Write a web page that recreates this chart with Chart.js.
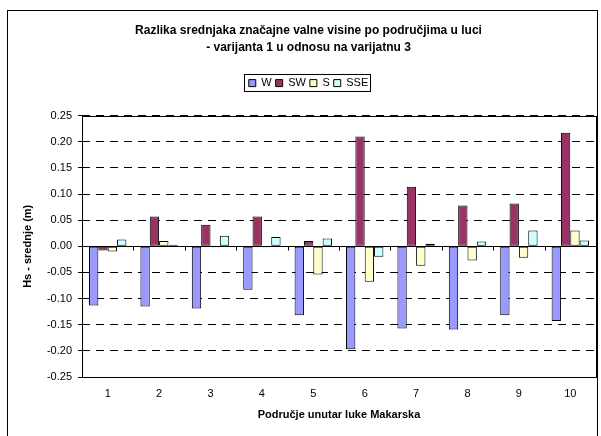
<!DOCTYPE html>
<html>
<head>
<meta charset="utf-8">
<script src="https://cdn.jsdelivr.net/npm/chart.js@4/dist/chart.umd.min.js"></script>
<style>
  html, body { margin: 0; padding: 0; background: #fff; }
  #wrap { width: 601px; height: 436px; position: relative; }
</style>
</head>
<body>
<div id="wrap"><canvas id="chart"></canvas></div>
<script>
// data
const categories = ['1', '2', '3', '4', '5', '6', '7', '8', '9', '10'];
const wValues   = [-0.113, -0.115, -0.119, -0.083, -0.132, -0.197, -0.157, -0.159, -0.132, -0.143];
const swValues  = [-0.008, 0.057, 0.041, 0.057, 0.010, 0.210, 0.114, 0.078, 0.082, 0.217];
const sValues   = [-0.010, 0.010, -0.002, -0.002, -0.054, -0.068, -0.037, -0.027, -0.022, 0.030];
const sseValues = [0.013, 0.003, 0.020, 0.018, 0.015, -0.020, 0.005, 0.009, 0.030, 0.011];
const yMin = -0.25, yMax = 0.25, yStep = 0.05;

const FONT = "'Liberation Sans', Arial, sans-serif";

// frame, plot box, zero line and legend border (Excel look)
const excelBits = {
    id: 'excelBits',
    beforeLayout(chart) {
        // extra room under the legend, like the original
        const lg = chart.legend;
        if (lg && !lg._patched) {
            const fit = lg.fit;
            lg.fit = function () { fit.call(this); this.height += 17; };
            lg._patched = true;
        }
    },
    beforeDraw(chart) {
        const ctx = chart.ctx;
        ctx.save();
        ctx.fillStyle = '#fff';
        ctx.fillRect(0, 0, chart.width, chart.height);
        ctx.strokeStyle = '#000';
        ctx.lineWidth = 1;
        ctx.strokeRect(7.5, 10.5, 590, 440);
        ctx.restore();
    },
    afterDatasetsDraw(chart) {
        const ctx = chart.ctx;
        const a = chart.chartArea;
        const x = chart.scales.x, y = chart.scales.y;
        const y0 = Math.round(y.getPixelForValue(0)) + 0.5;
        ctx.save();
        ctx.strokeStyle = '#000';
        ctx.lineWidth = 1;
        ctx.strokeRect(Math.round(a.left) + 0.5, Math.round(a.top) + 0.5,
            Math.round(a.right - a.left), Math.round(a.bottom - a.top));
        ctx.beginPath();
        ctx.moveTo(a.left, y0);
        ctx.lineTo(a.right, y0);
        // category boundary ticks on the zero line
        for (let i = 1; i < categories.length; i++) {
            const bx = Math.round((x.getPixelForValue(i - 1) + x.getPixelForValue(i)) / 2) + 0.5;
            ctx.moveTo(bx, y0);
            ctx.lineTo(bx, y0 + 4);
        }
        ctx.stroke();
        ctx.restore();
    },
    afterDraw(chart) {
        const boxes = chart.legend.legendHitBoxes;
        if (!boxes || !boxes.length) return;
        let l = Infinity, r = -Infinity, t = Infinity, b = -Infinity;
        boxes.forEach(h => {
            l = Math.min(l, h.left); r = Math.max(r, h.left + h.width);
            t = Math.min(t, h.top); b = Math.max(b, h.top + h.height);
        });
        const ctx = chart.ctx;
        ctx.save();
        ctx.strokeStyle = '#000';
        ctx.lineWidth = 1;
        ctx.strokeRect(Math.round(l) - 4.5, Math.round(t) - 3.5, Math.round(r - l) + 7, Math.round(b - t) + 6);
        ctx.restore();
    }
};

const ds = (label, data, color) => ({
    label, data,
    backgroundColor: color,
    borderColor: '#000',
    borderWidth: 1,
    borderSkipped: false,
    categoryPercentage: 0.727,
    barPercentage: 1.0
});

new Chart(document.getElementById('chart'), {
    type: 'bar',
    data: {
        labels: categories,
        datasets: [
            ds('W', wValues, '#9999FF'),
            ds('SW', swValues, '#993366'),
            ds('S', sValues, '#FFFFCC'),
            ds('SSE', sseValues, '#CCFFFF')
        ]
    },
    options: {
        responsive: true,
        maintainAspectRatio: false,
        animation: false,
        layout: { padding: { left: 21, right: 5, top: 0, bottom: 14 } },
        plugins: {
            title: {
                display: true,
                text: ['Razlika srednjaka značajne valne visine po područjima u luci',
                       '- varijanta 1 u odnosu na varijatnu 3'],
                color: '#000',
                font: { family: FONT, size: 12, weight: 'bold', lineHeight: 1.4 },
                padding: { top: 22, bottom: 18 }
            },
            legend: {
                position: 'top',
                labels: {
                    color: '#000',
                    font: { family: FONT, size: 11 },
                    boxWidth: 7,
                    boxHeight: 7,
                    padding: 4
                }
            },
            tooltip: { enabled: false }
        },
        scales: {
            x: {
                grid: { display: false, drawTicks: false },
                border: { display: false },
                ticks: { color: '#000', font: { family: FONT, size: 11 }, padding: 10 },
                title: {
                    display: true,
                    text: 'Područje unutar luke Makarska',
                    color: '#000',
                    font: { family: FONT, size: 11, weight: 'bold' },
                    padding: 0
                },
                afterFit(scale) { scale.height = 45; }
            },
            y: {
                min: yMin,
                max: yMax,
                grid: { color: '#000', lineWidth: 1, tickLength: 4, tickColor: '#000' },
                border: { display: false, dash: [8, 6] },
                ticks: {
                    stepSize: yStep,
                    color: '#000',
                    font: { family: FONT, size: 11 },
                    padding: 6,
                    callback: v => v.toFixed(2)
                },
                title: {
                    display: true,
                    text: 'Hs - srednje (m)',
                    color: '#000',
                    font: { family: FONT, size: 11, weight: 'bold' },
                    padding: 0
                },
                afterFit(scale) { scale.width = 61; }
            }
        }
    },
    plugins: [excelBits]
});
</script>
</body>
</html>
